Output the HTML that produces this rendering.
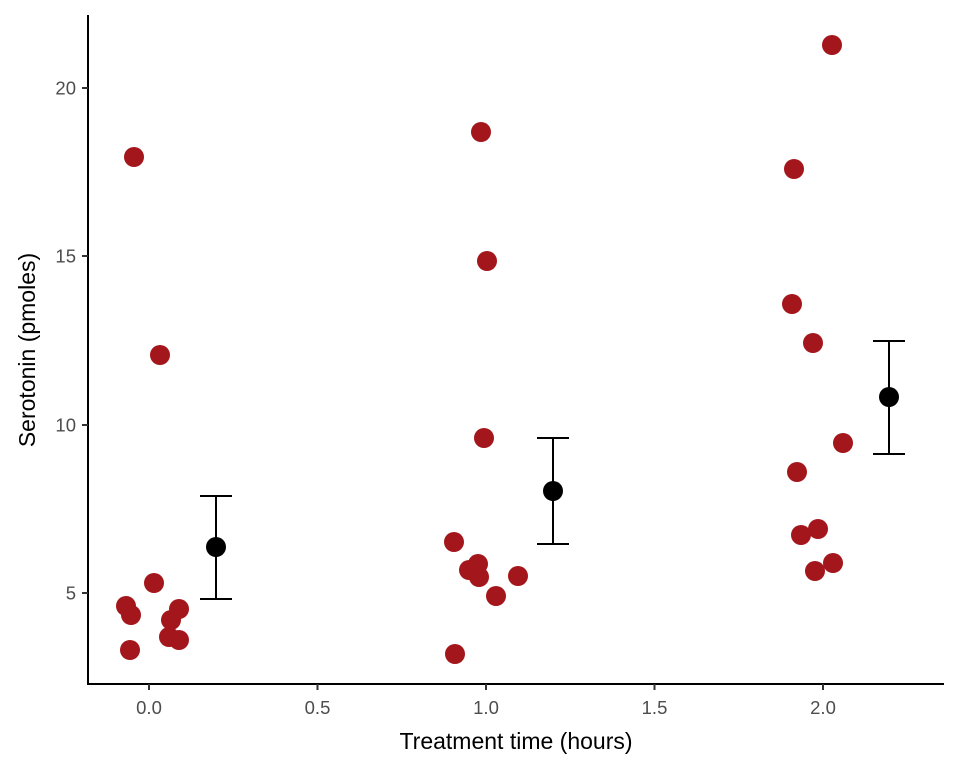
<!DOCTYPE html>
<html><head><meta charset="utf-8"><style>body{margin:0;background:#fff}svg{display:block}</style></head><body>
<svg width="960" height="768" xmlns="http://www.w3.org/2000/svg" font-family="Liberation Sans, sans-serif">
<rect width="960" height="768" fill="#fff"/>
<g stroke="#000" stroke-width="2" fill="none">
<line x1="88" y1="15" x2="88" y2="685"/>
<line x1="87" y1="684" x2="944" y2="684"/>
</g>
<g stroke="#333" stroke-width="2">
<line x1="82" y1="88" x2="88" y2="88"/><line x1="82" y1="256" x2="88" y2="256"/>
<line x1="82" y1="425" x2="88" y2="425"/><line x1="82" y1="593" x2="88" y2="593"/>
<line x1="149" y1="684" x2="149" y2="690"/><line x1="317.5" y1="684" x2="317.5" y2="690"/>
<line x1="486" y1="684" x2="486" y2="690"/><line x1="654.5" y1="684" x2="654.5" y2="690"/>
<line x1="823" y1="684" x2="823" y2="690"/>
</g>
<g fill="#4d4d4d" font-size="18.5" text-anchor="end">
<text x="76" y="94.5">20</text><text x="76" y="262.5">15</text><text x="76" y="431.5">10</text><text x="76" y="599.5">5</text>
</g>
<g fill="#4d4d4d" font-size="18.5" text-anchor="middle">
<text x="149" y="714">0.0</text><text x="317.5" y="714">0.5</text><text x="486" y="714">1.0</text><text x="654.5" y="714">1.5</text><text x="823" y="714">2.0</text>
</g>
<text x="516" y="749" font-size="23" text-anchor="middle">Treatment time (hours)</text>
<text transform="translate(35,350) rotate(-90)" font-size="23" text-anchor="middle">Serotonin (pmoles)</text>
<g fill="#a3161c">
<circle cx="134" cy="157" r="10"/><circle cx="160" cy="355" r="10"/><circle cx="154" cy="583" r="10"/><circle cx="126" cy="606" r="10"/><circle cx="131" cy="615" r="10"/><circle cx="179" cy="609" r="10"/><circle cx="171" cy="620" r="10"/><circle cx="169" cy="637" r="10"/><circle cx="179" cy="640" r="10"/><circle cx="130" cy="650" r="10"/>
<circle cx="481" cy="132" r="10"/><circle cx="487" cy="261" r="10"/><circle cx="484" cy="438" r="10"/><circle cx="454" cy="542" r="10"/><circle cx="478" cy="564" r="10"/><circle cx="469" cy="570" r="10"/><circle cx="479" cy="577" r="10"/><circle cx="518" cy="576" r="10"/><circle cx="496" cy="596" r="10"/><circle cx="455" cy="654" r="10"/>
<circle cx="832" cy="45" r="10"/><circle cx="794" cy="169" r="10"/><circle cx="792" cy="304" r="10"/><circle cx="813" cy="343" r="10"/><circle cx="843" cy="443" r="10"/><circle cx="797" cy="472" r="10"/><circle cx="818" cy="529" r="10"/><circle cx="801" cy="535" r="10"/><circle cx="815" cy="571" r="10"/><circle cx="833" cy="563" r="10"/>
</g>
<g stroke="#000" stroke-width="2" fill="none">
<path d="M200 496H232M216 496V599M200 599H232"/>
<path d="M537 438H569M553 438V544M537 544H569"/>
<path d="M873 341H905M889 341V454M873 454H905"/>
</g>
<g fill="#000">
<circle cx="216" cy="547" r="10"/><circle cx="553" cy="491" r="10"/><circle cx="889" cy="397" r="10"/>
</g>
</svg>
</body></html>
